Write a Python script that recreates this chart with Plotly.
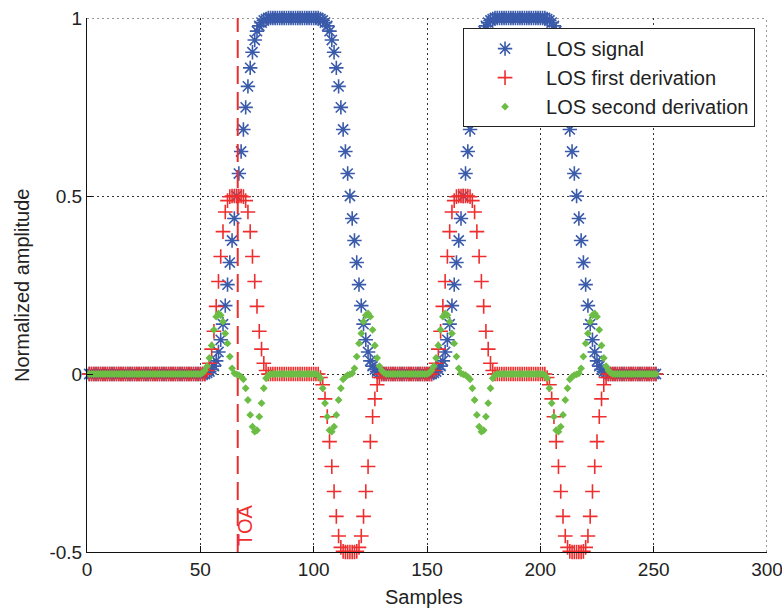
import plotly.graph_objects as go

# Sample index of every point
samples = list(range(1, 252))

# LOS signal (normalized amplitude), one value per sample
los_signal = [
    0, 0, 0, 0, 0, 0, 0, 0, 0, 0, 0, 0, 0, 0, 0, 0, 0, 0, 0, 0,
    0, 0, 0, 0, 0, 0, 0, 0, 0, 0, 0, 0, 0, 0, 0, 0, 0, 0, 0, 0,
    0, 0, 0, 0, 0, 0, 0, 0, 0, 0, 0, 0,
    0.003, 0.007, 0.013, 0.022, 0.037, 0.062, 0.096, 0.14, 0.192, 0.251,
    0.313, 0.375, 0.437, 0.5, 0.563, 0.625, 0.687, 0.749, 0.808, 0.86,
    0.904, 0.938, 0.963, 0.978, 0.987, 0.993, 0.997,
    1, 1, 1, 1, 1, 1, 1, 1, 1, 1, 1, 1, 1, 1, 1, 1, 1, 1, 1, 1, 1, 1, 1,
    0.997, 0.993, 0.987, 0.978, 0.963, 0.938, 0.904, 0.86, 0.808, 0.749,
    0.687, 0.625, 0.563, 0.5, 0.437, 0.375, 0.313, 0.251, 0.192, 0.14,
    0.096, 0.062, 0.037, 0.022, 0.013, 0.007, 0.003,
    0, 0, 0, 0, 0, 0, 0, 0, 0, 0, 0, 0, 0, 0, 0, 0, 0, 0, 0, 0, 0, 0, 0,
    0.003, 0.007, 0.013, 0.022, 0.037, 0.062, 0.096, 0.14, 0.192, 0.251,
    0.313, 0.375, 0.437, 0.5, 0.563, 0.625, 0.687, 0.749, 0.808, 0.86,
    0.904, 0.938, 0.963, 0.978, 0.987, 0.993, 0.997,
    1, 1, 1, 1, 1, 1, 1, 1, 1, 1, 1, 1, 1, 1, 1, 1, 1, 1, 1, 1, 1, 1, 1,
    0.997, 0.993, 0.987, 0.978, 0.963, 0.938, 0.904, 0.86, 0.808, 0.749,
    0.687, 0.625, 0.563, 0.5, 0.437, 0.375, 0.313, 0.251, 0.192, 0.14,
    0.096, 0.062, 0.037, 0.022, 0.013, 0.007, 0.003,
    0, 0, 0, 0, 0, 0, 0, 0, 0, 0, 0, 0, 0, 0, 0, 0, 0, 0, 0, 0, 0, 0,
]

# LOS first derivation (normalized)
los_first = [
    0, 0, 0, 0, 0, 0, 0, 0, 0, 0, 0, 0, 0, 0, 0, 0, 0, 0, 0, 0,
    0, 0, 0, 0, 0, 0, 0, 0, 0, 0, 0, 0, 0, 0, 0, 0, 0, 0, 0, 0,
    0, 0, 0, 0, 0, 0, 0, 0, 0, 0, 0, 0,
    0.01, 0.03, 0.07, 0.12, 0.19, 0.26, 0.33, 0.4, 0.455, 0.487, 0.498,
    0.5, 0.5, 0.5, 0.5, 0.5,
    0.498, 0.487, 0.455, 0.4, 0.33, 0.26, 0.19, 0.12, 0.07, 0.03, 0.01,
    0, 0, 0, 0, 0, 0, 0, 0, 0, 0, 0, 0, 0, 0, 0, 0, 0, 0, 0, 0, 0, 0, 0,
    -0.01, -0.03, -0.07, -0.12, -0.19, -0.26, -0.33, -0.4, -0.455, -0.487, -0.498,
    -0.5, -0.5, -0.5, -0.5, -0.5,
    -0.498, -0.487, -0.455, -0.4, -0.33, -0.26, -0.19, -0.12, -0.07, -0.03, -0.01,
    0, 0, 0, 0, 0, 0, 0, 0, 0, 0, 0, 0, 0, 0, 0, 0, 0, 0, 0, 0, 0, 0, 0,
    0.01, 0.03, 0.07, 0.12, 0.19, 0.26, 0.33, 0.4, 0.455, 0.487, 0.498,
    0.5, 0.5, 0.5, 0.5, 0.5,
    0.498, 0.487, 0.455, 0.4, 0.33, 0.26, 0.19, 0.12, 0.07, 0.03, 0.01,
    0, 0, 0, 0, 0, 0, 0, 0, 0, 0, 0, 0, 0, 0, 0, 0, 0, 0, 0, 0, 0, 0, 0,
    -0.01, -0.03, -0.07, -0.12, -0.19, -0.26, -0.33, -0.4, -0.455, -0.487, -0.498,
    -0.5, -0.5, -0.5, -0.5, -0.5,
    -0.498, -0.487, -0.455, -0.4, -0.33, -0.26, -0.19, -0.12, -0.07, -0.03, -0.01,
    0, 0, 0, 0, 0, 0, 0, 0, 0, 0, 0, 0, 0, 0, 0, 0, 0, 0, 0, 0, 0, 0,
]

# LOS second derivation (normalized)
los_second = [
    0, 0, 0, 0, 0, 0, 0, 0, 0, 0, 0, 0, 0, 0, 0, 0, 0, 0, 0, 0,
    0, 0, 0, 0, 0, 0, 0, 0, 0, 0, 0, 0, 0, 0, 0, 0, 0, 0, 0, 0,
    0, 0, 0, 0, 0, 0, 0, 0, 0, 0,
    0.003, 0.01, 0.022, 0.045, 0.08, 0.124, 0.161, 0.17, 0.165, 0.147,
    0.114, 0.086, 0.049, 0.016, 0.002, -0.001, -0.003, -0.008, -0.015, -0.04,
    -0.073, -0.115, -0.148, -0.162, -0.158, -0.12, -0.082, -0.04, -0.012, -0.003,
    0, 0, 0, 0, 0, 0, 0, 0, 0, 0, 0, 0, 0, 0, 0, 0, 0, 0, 0, 0, 0,
    -0.003, -0.012, -0.04, -0.082, -0.12, -0.158, -0.162, -0.148, -0.115, -0.073,
    -0.04, -0.015, -0.008, -0.003, -0.001, 0.002, 0.016, 0.049, 0.086, 0.114,
    0.147, 0.165, 0.17, 0.161, 0.124, 0.08, 0.045, 0.022, 0.01, 0.003,
    0, 0, 0, 0, 0, 0, 0, 0, 0, 0, 0, 0, 0, 0, 0, 0, 0, 0, 0,
    0.003, 0.01, 0.022, 0.045, 0.08, 0.124, 0.161, 0.17, 0.165, 0.147,
    0.114, 0.086, 0.049, 0.016, 0.002, -0.001, -0.003, -0.008, -0.015, -0.04,
    -0.073, -0.115, -0.148, -0.162, -0.158, -0.12, -0.082, -0.04, -0.012, -0.003,
    0, 0, 0, 0, 0, 0, 0, 0, 0, 0, 0, 0, 0, 0, 0, 0, 0, 0, 0, 0, 0,
    -0.003, -0.012, -0.04, -0.082, -0.12, -0.158, -0.162, -0.148, -0.115, -0.073,
    -0.04, -0.015, -0.008, -0.003, -0.001, 0.002, 0.016, 0.049, 0.086, 0.114,
    0.147, 0.165, 0.17, 0.161, 0.124, 0.08, 0.045, 0.022, 0.01, 0.003,
    0, 0, 0, 0, 0, 0, 0, 0, 0, 0, 0, 0, 0, 0, 0, 0, 0, 0, 0, 0,
]

# Time of arrival marker
toa_sample = 66.5
toa_label = "TOA"

x_range = [0, 300]
y_range = [-0.5, 1]
x_ticks = [0, 50, 100, 150, 200, 250, 300]
y_ticks = [-0.5, 0, 0.5, 1]
y_tick_text = ["-0.5", "0", "0.5", "1"]

BLUE = "#3A5AAA"
RED = "#EE2E2E"
GREEN = "#6CBD45"
FONT = "Liberation Sans, Arial, Helvetica, sans-serif"
INK = "#222222"
GRID = "#333333"
GRID_DASH = "2px,3px"

fig = go.Figure()
fig.add_trace(go.Scatter(
    x=samples, y=los_signal, mode="markers", name="LOS signal",
    cliponaxis=False,
    marker=dict(symbol="asterisk-open", size=12, color=BLUE,
                line=dict(color=BLUE, width=1.6)),
))
fig.add_trace(go.Scatter(
    x=samples, y=los_first, mode="markers", name="LOS first derivation",
    cliponaxis=False,
    marker=dict(symbol="cross-thin-open", size=10.5, color=RED,
                line=dict(color=RED, width=1.6)),
))
fig.add_trace(go.Scatter(
    x=samples, y=los_second, mode="markers", name="LOS second derivation",
    cliponaxis=False,
    marker=dict(symbol="diamond", size=6, color=GREEN, line=dict(width=0)),
))

# Dotted grid lines along the top and right edges of the axes box
fig.add_shape(type="line", xref="x", yref="y", layer="below",
              x0=x_range[0], x1=x_range[1], y0=y_range[1], y1=y_range[1],
              line=dict(color=GRID, width=1, dash=GRID_DASH))
fig.add_shape(type="line", xref="x", yref="y", layer="below",
              x0=x_range[1], x1=x_range[1], y0=y_range[0], y1=y_range[1],
              line=dict(color=GRID, width=1, dash=GRID_DASH))

# Dashed vertical TOA line and its rotated label
fig.add_shape(type="line", xref="x", yref="y", x0=toa_sample, x1=toa_sample,
              y0=y_range[0], y1=y_range[1], line=dict(color=RED, width=2, dash="18px,8px"))
fig.add_annotation(x=toa_sample + 3.2, y=-0.424, xref="x", yref="y",
                   text=toa_label, textangle=-90, showarrow=False,
                   xanchor="center", yanchor="middle",
                   font=dict(family=FONT, size=20, color=RED))

# Axis titles
fig.add_annotation(x=0.4956, y=-0.084, xref="paper", yref="paper",
                   text="Samples", showarrow=False, xanchor="center", yanchor="middle",
                   font=dict(family=FONT, size=20, color=INK))
fig.add_annotation(x=-0.0956, y=0.5, xref="paper", yref="paper",
                   text="Normalized amplitude", textangle=-90, showarrow=False,
                   xanchor="center", yanchor="middle",
                   font=dict(family=FONT, size=20, color=INK))

axis_common = dict(
    showline=True, linecolor="#111111", linewidth=1, mirror=False,
    ticks="inside", ticklen=6, tickcolor="#111111", tickwidth=1,
    showgrid=True, gridcolor=GRID, gridwidth=1, griddash=GRID_DASH,
    zeroline=False, tickfont=dict(family=FONT, size=19, color=INK),
    ticklabeloverflow="allow", automargin=False,
)

fig.update_layout(
    width=782, height=610,
    margin=dict(l=87, r=15, t=18, b=58, pad=0, autoexpand=False),
    paper_bgcolor="white", plot_bgcolor="white",
    font=dict(family=FONT, size=19, color=INK),
    xaxis=dict(range=x_range, tickvals=x_ticks, **axis_common),
    yaxis=dict(range=y_range, tickvals=y_ticks, ticktext=y_tick_text, **axis_common),
    legend=dict(x=0.553, y=0.981, xanchor="left", yanchor="top",
                bgcolor="white", bordercolor="#222222", borderwidth=1,
                font=dict(family=FONT, size=20, color=INK),
                itemwidth=72, tracegroupgap=0),
    showlegend=True,
)

fig.write_html("out.html", config={"displayModeBar": False})
